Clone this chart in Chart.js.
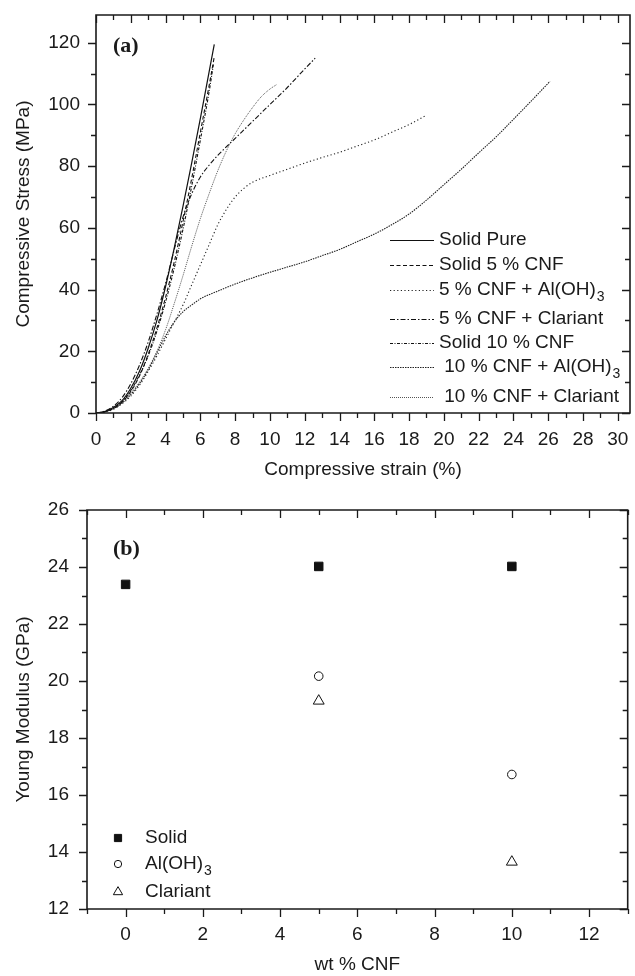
<!DOCTYPE html>
<html><head><meta charset="utf-8">
<script src="https://cdn.jsdelivr.net/npm/chart.js@4.4.1/dist/chart.umd.min.js"></script>
<style>
html,body{margin:0;padding:0;background:#fff;overflow:hidden;}
#ca{position:absolute;left:0;top:0;}
#cb{position:absolute;left:0;top:490px;}
</style></head><body>
<canvas id="ca" width="635" height="490"></canvas>
<canvas id="cb" width="635" height="486"></canvas>
<script>
// ---------- Panel (a) data ----------
const seriesLabels = ['Solid Pure', 'Solid 5 % CNF', '5 % CNF + Al(OH)3', '5 % CNF + Clariant', 'Solid 10 % CNF', ' 10 % CNF + Al(OH)3', ' 10 % CNF + Clariant'];
const solidPureX = [0, 0.5, 1, 1.5, 2, 2.5, 3, 3.5, 4, 4.5, 5, 5.5, 6, 6.5, 6.8];
const solidPureY = [0, 0.5, 1.8, 4, 8, 13.5, 21, 30, 41, 53.5, 67, 81, 95.5, 110.5, 119.5];
const solid5X = [0, 0.5, 1, 1.5, 2, 2.5, 3, 3.5, 4, 4.5, 5, 5.5, 6, 6.5, 6.8];
const solid5Y = [0, 0.4, 1.5, 3.5, 7, 12, 19, 27.5, 37.5, 49, 62, 76, 91, 106, 115.5];
const cnf5AlX = [0, 0.5, 1, 1.5, 2, 2.5, 3, 3.5, 4, 4.5, 5, 5.5, 6, 6.5, 7, 7.5, 8, 8.5, 9, 10, 11, 12, 13, 14, 15, 16, 17, 18, 19];
const cnf5AlY = [0, 0.3, 1.2, 3, 5.5, 9, 13.5, 18.5, 24, 29.5, 35, 41.5, 48, 54.5, 61, 66, 70, 72.8, 74.8, 77, 79, 81, 82.8, 84.5, 86.5, 88.5, 91, 93.5, 96.5];
const cnf5ClX = [0, 0.5, 1, 1.5, 2, 2.5, 3, 3.5, 4, 4.5, 5, 5.5, 6, 6.5, 7, 8, 9, 10, 11, 12, 12.6];
const cnf5ClY = [0, 0.6, 2.2, 5, 9.5, 15.5, 23, 32, 42, 53, 63.5, 71, 76.5, 80.3, 83.5, 89, 94.5, 100, 105.5, 111.5, 115];
const solid10X = [0, 0.5, 1, 1.5, 2, 2.5, 3, 3.5, 4, 4.5, 5, 5.5, 6, 6.5, 6.75];
const solid10Y = [0, 0.4, 1.6, 3.7, 7.3, 12.3, 18.5, 26.5, 36, 47, 59.5, 73.5, 88.5, 104, 113];
const cnf10AlX = [0, 0.5, 1, 1.5, 2, 2.5, 3, 3.5, 4, 4.5, 5, 5.5, 6, 7, 8, 9, 10, 11, 12, 13, 14, 15, 16, 17, 18, 19, 20, 21, 22, 23, 24, 25, 26.1];
const cnf10AlY = [0, 0.4, 1.4, 3.2, 6, 9.5, 14, 19.5, 25, 29.5, 32.8, 35, 37, 39.5, 41.8, 43.8, 45.6, 47.3, 49, 51, 53, 55.5, 58, 61, 64.5, 69, 74, 79, 84.3, 89.5, 95.2, 101, 107.5];
const cnf10ClX = [0, 0.5, 1, 1.5, 2, 2.5, 3, 3.5, 4, 4.5, 5, 5.5, 6, 6.5, 7, 7.5, 8, 8.5, 9, 9.5, 10, 10.4];
const cnf10ClY = [0, 0.4, 1.5, 3.5, 6.5, 10, 14.5, 20, 27, 35.5, 44.5, 54, 63, 71, 78.5, 85, 90.5, 95, 99, 102.5, 105, 106.5];
const strainMajorTicks = [0, 2, 4, 6, 8, 10, 12, 14, 16, 18, 20, 22, 24, 26, 28, 30];
const strainMinorTicks = [1, 3, 5, 7, 9, 11, 13, 15, 17, 19, 21, 23, 25, 27, 29];
const stressMajorTicks = [0, 20, 40, 60, 80, 100, 120];
const stressMinorTicks = [10, 30, 50, 70, 90, 110];

// ---------- Panel (b) data ----------
const modulusLabels = ['Solid', 'Al(OH)3', 'Clariant'];
const solidCNF = [0, 5, 10];
const solidModulus = [23.39, 24.02, 24.02];
const alohCNF = [5, 10];
const alohModulus = [20.17, 16.72];
const clariantCNF = [5, 10];
const clariantModulus = [19.3, 13.65];
const cnfMajorTicks = [0, 2, 4, 6, 8, 10, 12];
const cnfMinorTicks = [-1, 1, 3, 5, 7, 9, 11, 13];
const modulusMajorTicks = [12, 14, 16, 18, 20, 22, 24, 26];
const modulusMinorTicks = [13, 15, 17, 19, 21, 23, 25];

const FONT = '"Liberation Sans", Arial, Helvetica, sans-serif';
const INK = '#1a1a1a';
Chart.defaults.font.family = FONT;
Chart.defaults.font.size = 19;
Chart.defaults.color = INK;

const zip = (xs, ys) => xs.map((v, i) => ({x: v, y: ys[i]}));
const noPad = s => { s.paddingTop = 0; s.paddingBottom = 0; s.paddingLeft = 0; s.paddingRight = 0; };
const GRID = {display: false, drawTicks: false, tickLength: 0};

function drawRich(ctx, text, x, y, size) {
  const m = text.match(/^(.*Al\(OH\))3(.*)$/);
  ctx.font = size + 'px ' + FONT;
  ctx.textBaseline = 'middle';
  ctx.textAlign = 'left';
  if (!m) { ctx.fillText(text, x, y); return; }
  ctx.fillText(m[1], x, y);
  const w = ctx.measureText(m[1]).width;
  ctx.font = Math.round(size * 0.72) + 'px ' + FONT;
  ctx.fillText('3', x + w + 1, y + size * 0.38);
  const w2 = ctx.measureText('3').width;
  ctx.font = size + 'px ' + FONT;
  if (m[2]) ctx.fillText(m[2], x + w + 1 + w2, y);
}

const framePlugin = {
  id: 'frameTicks',
  afterDraw(chart, args, o) {
    const {ctx, chartArea: a, scales: {x, y}} = chart;
    ctx.save();
    ctx.strokeStyle = INK;
    ctx.lineWidth = 1.6;
    ctx.beginPath();
    ctx.rect(a.left, a.top, a.right - a.left, a.bottom - a.top);
    ctx.stroke();
    ctx.lineWidth = 1.3;
    ctx.beginPath();
    const xt = (vals, len) => vals.forEach(v => {
      const p = Math.round(x.getPixelForValue(v)) + 0.5;
      ctx.moveTo(p, a.bottom); ctx.lineTo(p, a.bottom + len);
      ctx.moveTo(p, a.top); ctx.lineTo(p, a.top + len);
    });
    const yt = (vals, len) => vals.forEach(v => {
      const p = Math.round(y.getPixelForValue(v)) + 0.5;
      ctx.moveTo(a.left, p); ctx.lineTo(a.left - len, p);
      ctx.moveTo(a.right, p); ctx.lineTo(a.right - len, p);
    });
    xt(o.xMajor, 8); xt(o.xMinor, 5); yt(o.yMajor, 8); yt(o.yMinor, 5);
    ctx.stroke();
    if (o.tag) {
      ctx.font = 'bold 22px "Liberation Serif", "Times New Roman", serif';
      ctx.fillStyle = INK;
      ctx.textBaseline = 'middle';
      ctx.textAlign = 'left';
      ctx.fillText(o.tag, o.tagX, o.tagY);
    }
    ctx.restore();
  }
};

const curveLegend = {
  id: 'curveLegend',
  afterDraw(chart, args, o) {
    if (!o || !o.rows) return;
    const ctx = chart.ctx;
    ctx.save();
    chart.data.datasets.forEach((ds, i) => {
      const yy = o.rows[i];
      ctx.strokeStyle = ds.borderColor;
      ctx.lineWidth = ds.borderWidth;
      ctx.setLineDash(ds.borderDash || []);
      ctx.beginPath();
      ctx.moveTo(o.x0, yy + 0.5); ctx.lineTo(o.x1, yy + 0.5);
      ctx.stroke();
      ctx.setLineDash([]);
      ctx.fillStyle = INK;
      drawRich(ctx, ds.label, o.tx, yy, 19);
    });
    ctx.restore();
  }
};

const markerLegend = {
  id: 'markerLegend',
  afterDraw(chart, args, o) {
    if (!o || !o.rows) return;
    const ctx = chart.ctx;
    ctx.save();
    chart.data.datasets.forEach((ds, i) => {
      const yy = o.rows[i];
      ctx.fillStyle = ds.backgroundColor;
      ctx.strokeStyle = ds.borderColor;
      ctx.lineWidth = ds.borderWidth;
      Chart.helpers.drawPoint(ctx, {pointStyle: ds.pointStyle, radius: ds.pointRadius * 0.85, rotation: 0, borderWidth: ds.borderWidth}, o.mx, yy);
      ctx.fillStyle = INK;
      drawRich(ctx, ds.label, o.tx, yy, 19);
    });
    ctx.restore();
  }
};

const styles = [
  {c: '#111', w: 1.2, d: []},
  {c: '#111', w: 1.1, d: [4, 2.5]},
  {c: '#222', w: 1.1, d: [1.2, 2.4]},
  {c: '#111', w: 1.1, d: [5, 2, 1.5, 2]},
  {c: '#111', w: 1.1, d: [3, 1.5, 1, 1.5]},
  {c: '#222', w: 1.1, d: [1.5, 1]},
  {c: '#555', w: 1.0, d: [1, 1]}
];
const curveData = [
  zip(solidPureX, solidPureY), zip(solid5X, solid5Y), zip(cnf5AlX, cnf5AlY),
  zip(cnf5ClX, cnf5ClY), zip(solid10X, solid10Y), zip(cnf10AlX, cnf10AlY), zip(cnf10ClX, cnf10ClY)
];

new Chart(document.getElementById('ca'), {
  type: 'line',
  data: {
    datasets: curveData.map((d, i) => ({
      label: seriesLabels[i], data: d, borderColor: styles[i].c, borderWidth: styles[i].w,
      borderDash: styles[i].d, pointRadius: 0, fill: false, cubicInterpolationMode: 'monotone'
    }))
  },
  options: {
    responsive: false, animation: false, events: [],
    layout: {padding: {top: 15, right: 5, left: 0, bottom: 0}},
    plugins: {
      legend: {display: false}, tooltip: {enabled: false},
      frameTicks: {xMajor: strainMajorTicks, xMinor: strainMinorTicks, yMajor: stressMajorTicks, yMinor: stressMinorTicks, tag: '(a)', tagX: 113, tagY: 46},
      curveLegend: {rows: [240, 265, 290, 319, 343, 367, 397], x0: 390, x1: 434, tx: 439}
    },
    scales: {
      x: {
        type: 'linear', min: 0, max: 30.7,
        afterBuildTicks: s => { s.ticks = strainMajorTicks.map(v => ({value: v})); },
        afterFit: s => { s.height = 77; noPad(s); },
        grid: GRID, border: {display: false},
        ticks: {padding: 15.6, maxRotation: 0, autoSkip: false},
        title: {display: true, text: 'Compressive strain (%)', padding: {top: 0, bottom: 9}}
      },
      y: {
        type: 'linear', min: 0, max: 129,
        afterBuildTicks: s => { s.ticks = stressMajorTicks.map(v => ({value: v})); },
        afterFit: s => { s.width = 96; noPad(s); },
        grid: GRID, border: {display: false},
        ticks: {padding: 16},
        title: {display: true, text: 'Compressive Stress (MPa)', padding: {top: 12, bottom: 0}}
      }
    }
  },
  plugins: [framePlugin, curveLegend]
});

new Chart(document.getElementById('cb'), {
  type: 'scatter',
  data: {
    datasets: [
      {label: modulusLabels[0], data: zip(solidCNF, solidModulus), pointStyle: 'rect', pointRadius: 6, backgroundColor: '#111', borderColor: '#111', borderWidth: 1},
      {label: modulusLabels[1], data: zip(alohCNF, alohModulus), pointStyle: 'circle', pointRadius: 4.3, backgroundColor: '#fff', borderColor: '#111', borderWidth: 1},
      {label: modulusLabels[2], data: zip(clariantCNF, clariantModulus), pointStyle: 'triangle', pointRadius: 6.3, backgroundColor: '#fff', borderColor: '#111', borderWidth: 1}
    ]
  },
  options: {
    responsive: false, animation: false, events: [],
    layout: {padding: {top: 20, right: 6, left: 0, bottom: 0}},
    plugins: {
      legend: {display: false}, tooltip: {enabled: false},
      frameTicks: {xMajor: cnfMajorTicks, xMinor: cnfMinorTicks, yMajor: modulusMajorTicks, yMinor: modulusMinorTicks, tag: '(b)', tagX: 113, tagY: 59},
      markerLegend: {rows: [348, 374, 402], mx: 118, tx: 145}
    },
    scales: {
      x: {
        type: 'linear', min: -1, max: 13,
        afterBuildTicks: s => { s.ticks = cnfMajorTicks.map(v => ({value: v})); },
        afterFit: s => { s.height = 67; noPad(s); },
        grid: GRID, border: {display: false},
        ticks: {padding: 14.6, maxRotation: 0, autoSkip: false},
        title: {display: true, text: 'wt % CNF', padding: {top: 0, bottom: 0}}
      },
      y: {
        type: 'linear', min: 12, max: 26,
        afterBuildTicks: s => { s.ticks = modulusMajorTicks.map(v => ({value: v})); },
        afterFit: s => { s.width = 87; noPad(s); },
        grid: GRID, border: {display: false},
        ticks: {padding: 18},
        title: {display: true, text: 'Young Modulus (GPa)', padding: {top: 12, bottom: 0}}
      }
    }
  },
  plugins: [framePlugin, markerLegend]
});
</script>
</body></html>
